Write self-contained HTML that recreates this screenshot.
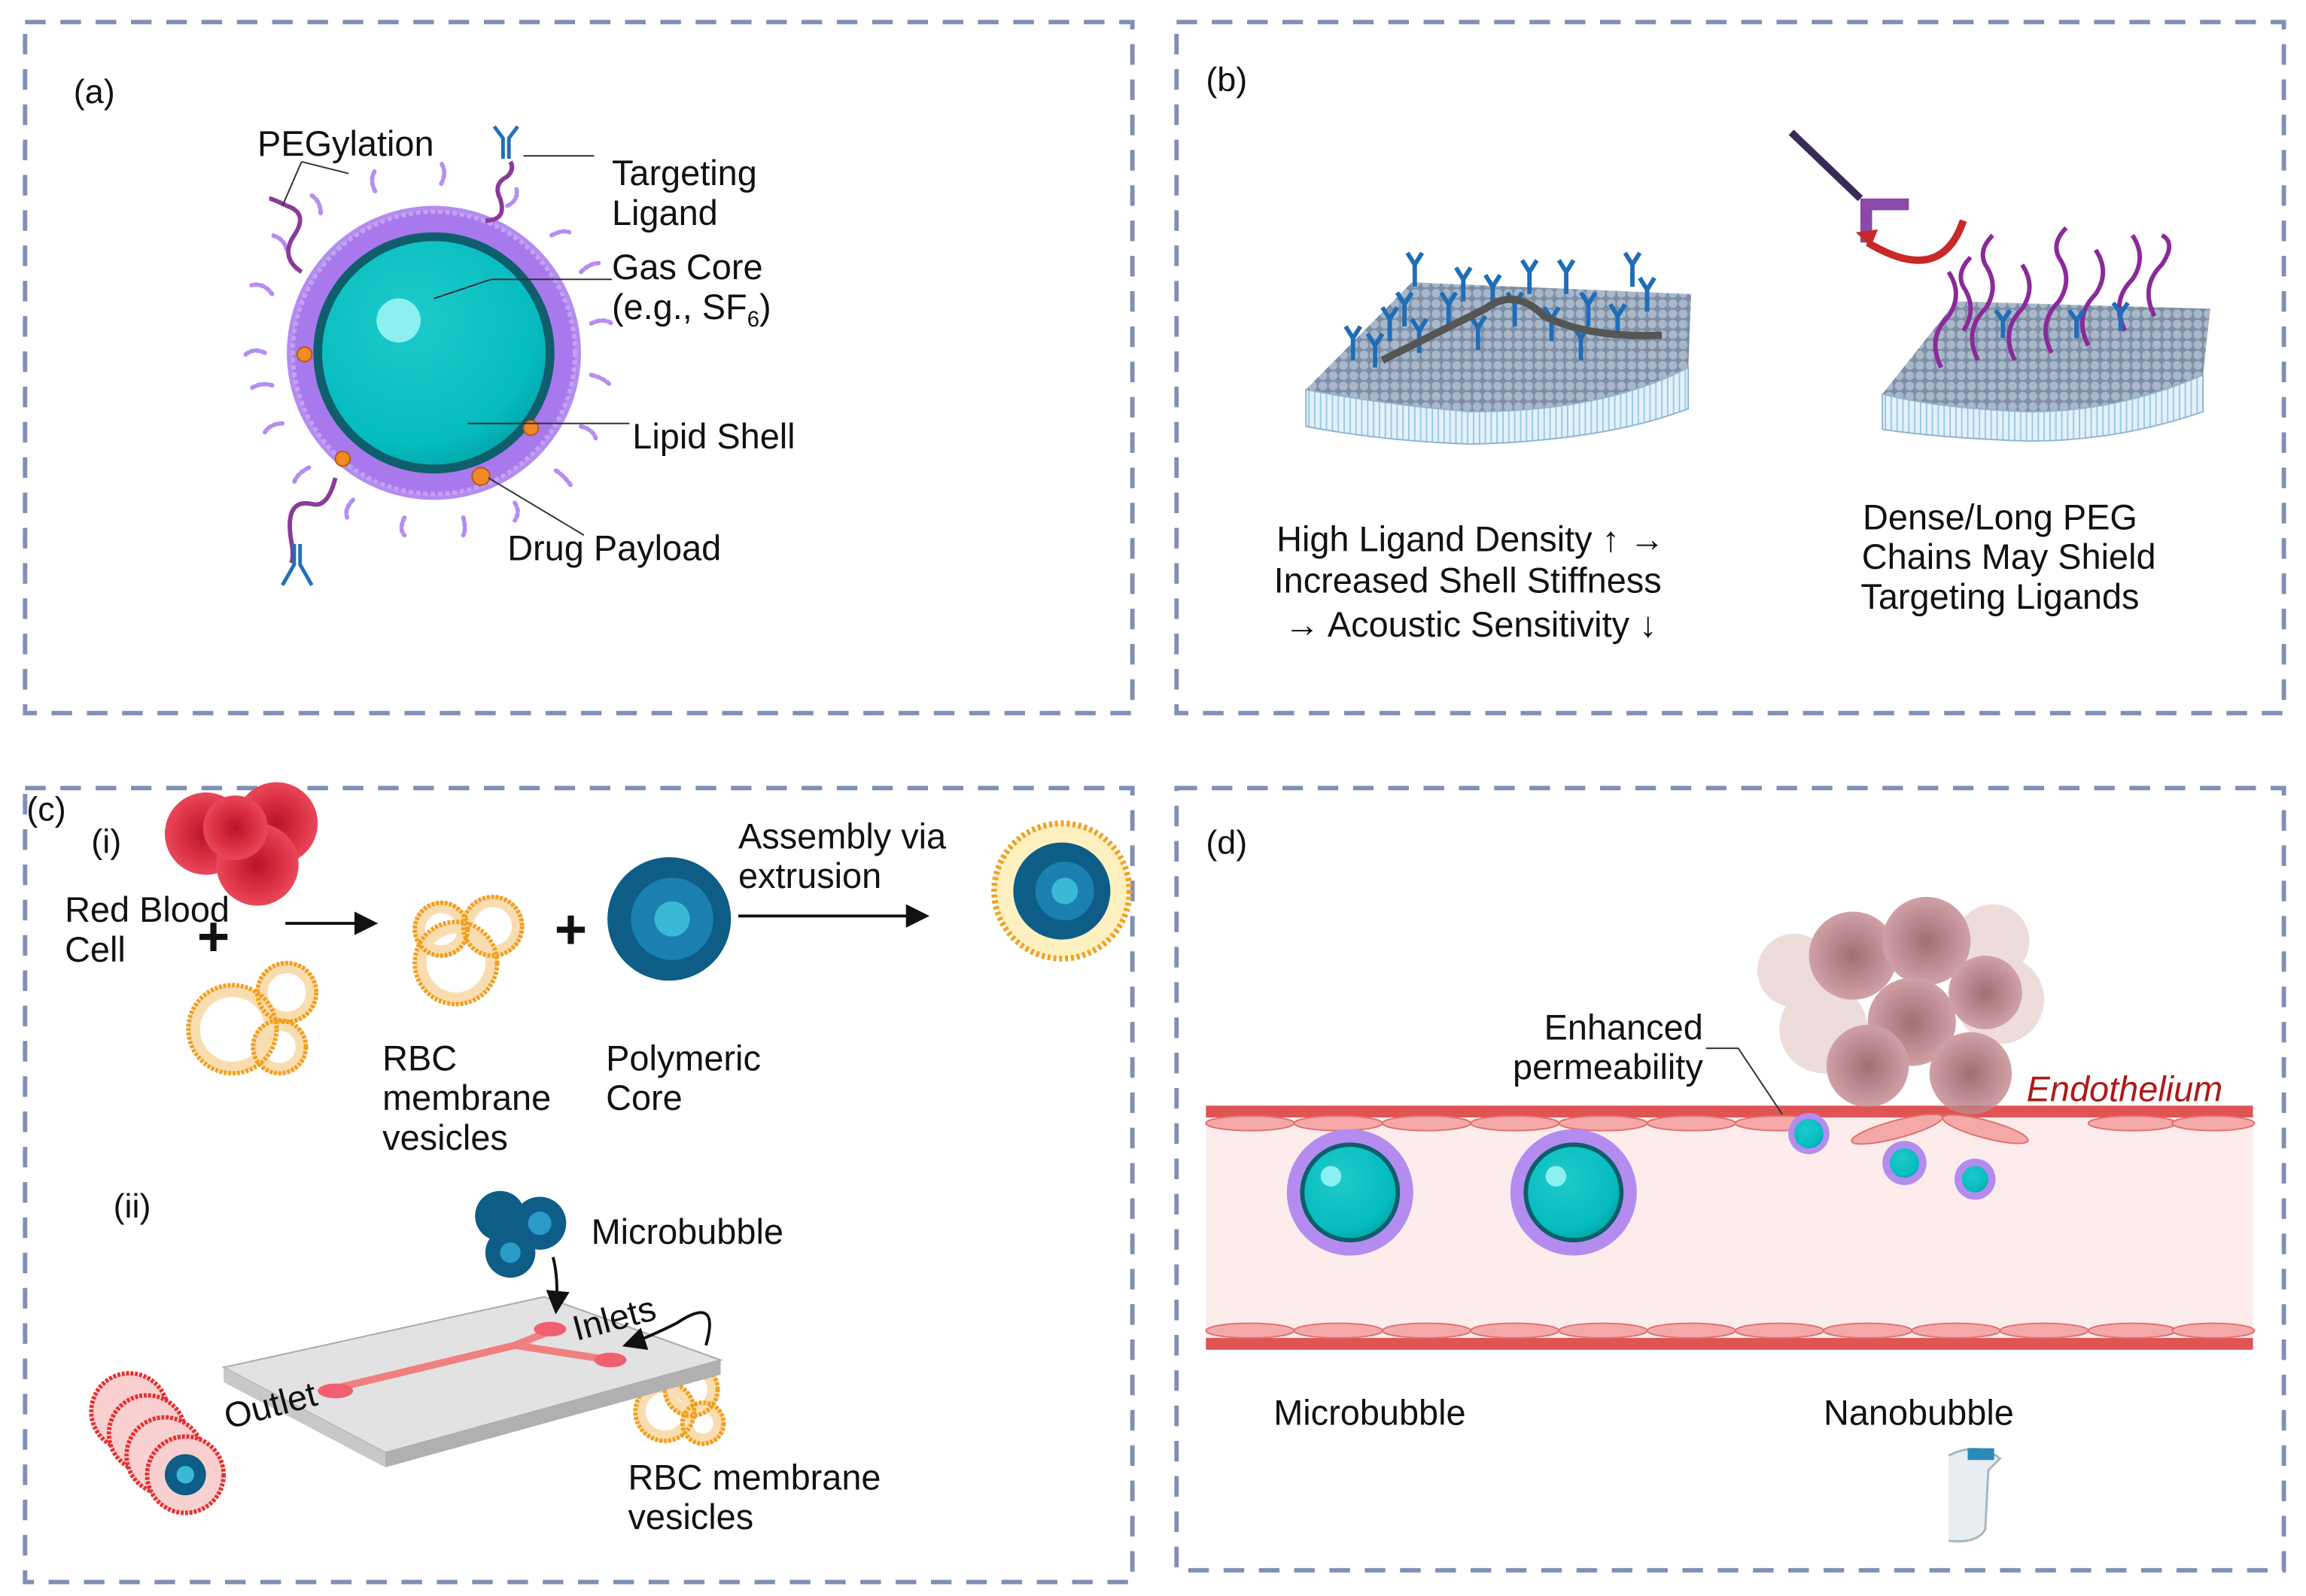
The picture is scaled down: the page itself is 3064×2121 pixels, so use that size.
<!DOCTYPE html>
<html><head><meta charset="utf-8"><style>
html,body{margin:0;padding:0;background:#fff;}
svg{display:block;}
text{font-family:"Liberation Sans",Arial,sans-serif;fill:#111;}
</style></head><body>
<svg width="3064" height="2121" viewBox="0 0 1568 1085.5" xmlns="http://www.w3.org/2000/svg">
<defs>
<pattern id="dots" width="7" height="7" patternUnits="userSpaceOnUse"><rect width="7" height="7" fill="#7d8fa6"/><circle cx="3.5" cy="3.5" r="3" fill="#a9b8c9"/></pattern>
<pattern id="tails" width="4" height="10" patternUnits="userSpaceOnUse"><rect width="4" height="10" fill="#e3f1fb"/><line x1="2" y1="0" x2="2" y2="10" stroke="#9cc8e6" stroke-width="1"/></pattern>
<radialGradient id="teal" cx="0.4" cy="0.35" r="0.7"><stop offset="0" stop-color="#1fcaca"/><stop offset="0.8" stop-color="#05bcbf"/><stop offset="1" stop-color="#03a5a8"/></radialGradient>
<radialGradient id="rbc" cx="0.5" cy="0.5" r="0.5"><stop offset="0" stop-color="#b8142a"/><stop offset="0.6" stop-color="#dc2f42"/><stop offset="1" stop-color="#e8485a"/></radialGradient>
<radialGradient id="tum" cx="0.5" cy="0.5" r="0.5"><stop offset="0" stop-color="#8c4a52"/><stop offset="1" stop-color="#c48a90"/></radialGradient>
<marker id="ah" markerWidth="8" markerHeight="8" refX="7" refY="4" orient="auto"><path d="M0,0 L8,4 L0,8 z" fill="#111"/></marker>
</defs>

<g fill="none" stroke="#7f8fb5" stroke-width="3" stroke-dasharray="14,10">
<rect x="17" y="15" width="753" height="470"/>
<rect x="800" y="15" width="753" height="470"/>
<rect x="17" y="536" width="753" height="540"/>
<rect x="800" y="536" width="753" height="532"/>
</g>

<!-- (a) -->
<text x="50" y="70" font-size="23">(a)</text>
<g stroke="#b58ef0" stroke-width="3" fill="none" stroke-dasharray="2,2" stroke-linecap="round">
<path d="M180,240 q-8,-4 -14,2"/><path d="M185,200 q-6,-8 -14,-6"/><path d="M195,170 q-2,-8 -10,-10"/><path d="M218,145 q0,-8 -6,-12"/><path d="M255,130 q-4,-8 0,-14"/><path d="M300,125 q4,-8 0,-14"/><path d="M345,140 q8,-4 6,-12"/><path d="M375,160 q8,-4 12,-2"/><path d="M395,185 q6,-6 12,-6"/><path d="M402,220 q8,-4 14,0"/><path d="M402,255 q8,2 12,6"/><path d="M395,290 q8,2 10,8"/><path d="M378,320 q6,4 10,10"/><path d="M350,342 q4,6 0,12"/><path d="M315,352 q2,8 0,12"/><path d="M275,352 q-4,8 0,12"/><path d="M240,340 q-6,6 -4,12"/><path d="M210,318 q-8,4 -10,10"/><path d="M192,288 q-8,0 -12,6"/><path d="M185,262 q-8,-2 -14,2"/>
</g>
<circle cx="295" cy="240" r="100" fill="#b48cf0"/>
<circle cx="295" cy="240" r="96" fill="#a879ec" stroke="#c3a2f4" stroke-width="3" stroke-dasharray="3,2"/>
<path d="M205,185 q-15,-10 -5,-25 q10,-15 -5,-20 q-10,-5 -12,-5" stroke="#8a3a9a" stroke-width="3" fill="none"/>
<path d="M228,325 q-5,20 -15,18 q-20,-5 -15,25 q2,10 0,15" stroke="#8a3a9a" stroke-width="3" fill="none"/>
<path d="M330,150 q15,0 10,-15 q-5,-10 5,-15 q5,-5 2,-10" stroke="#8a3a9a" stroke-width="3" fill="none"/>
<circle cx="295" cy="240" r="82" fill="#0f5e6c"/>
<circle cx="295" cy="240" r="76" fill="url(#teal)"/>
<circle cx="271" cy="218" r="15" fill="#8df0f0"/>
<g fill="#f08a24" stroke="#b85a10" stroke-width="1"><circle cx="207" cy="241" r="5"/><circle cx="233" cy="312" r="5"/><circle cx="327" cy="324" r="6"/><circle cx="361" cy="291" r="5"/></g>
<g stroke="#1f70b8" stroke-width="2.5" fill="none"><path d="M342,108 v-14 l-6,-8 M346,108 v-14 l6,-8"/><path d="M200,370 v14 l-8,14 M204,370 v14 l8,14"/></g>
<g stroke="#333" stroke-width="1" fill="none">
<path d="M356,106 H404"/><path d="M295,203 L334,190 H416"/><path d="M318,288 H428"/><path d="M332,325 L397,364"/><path d="M205,110 L192,140"/><path d="M205,110 L237,118"/>
</g>
<text x="175" y="106" font-size="24">PEGylation</text>
<text x="416" y="126" font-size="24">Targeting</text>
<text x="416" y="153" font-size="24">Ligand</text>
<text x="416" y="190" font-size="24">Gas Core</text>
<text x="416" y="217" font-size="24">(e.g., SF<tspan font-size="15" dy="5">6</tspan><tspan dy="-5">)</tspan></text>
<text x="430" y="305" font-size="24">Lipid Shell</text>
<text x="345" y="381" font-size="24">Drug Payload</text>

<!-- (b) -->
<text x="820" y="62" font-size="23">(b)</text>
<path d="M888,265 L960,192 L1150,200 L1148,250 Q1090,280 1000,280 Q940,275 888,265 Z" fill="url(#dots)"/>
<path d="M888,265 Q940,275 1000,280 Q1090,280 1148,250 L1148,278 Q1090,300 1000,302 Q940,300 888,290 Z" fill="url(#tails)" stroke="#8fb5d0" stroke-width="1"/>
<g stroke="#1f6db8" stroke-width="3" fill="none">
<path d="M920,245 v-15 l-5,-8 M920,230 l5,-8"/><path d="M945,232 v-15 l-5,-8 M945,217 l5,-8"/><path d="M965,240 v-15 l-5,-8 M965,225 l5,-8"/><path d="M985,222 v-15 l-5,-8 M985,207 l5,-8"/><path d="M1005,238 v-15 l-5,-8 M1005,223 l5,-8"/><path d="M1030,222 v-15 l-5,-8 M1030,207 l5,-8"/><path d="M1055,232 v-15 l-5,-8 M1055,217 l5,-8"/><path d="M1080,222 v-15 l-5,-8 M1080,207 l5,-8"/><path d="M1100,230 v-15 l-5,-8 M1100,215 l5,-8"/><path d="M1120,212 v-15 l-5,-8 M1120,197 l5,-8"/><path d="M962,195 v-15 l-5,-8 M962,180 l5,-8"/><path d="M1040,200 v-15 l-5,-8 M1040,185 l5,-8"/><path d="M1065,200 v-15 l-5,-8 M1065,185 l5,-8"/><path d="M995,205 v-15 l-5,-8 M995,190 l5,-8"/><path d="M935,250 v-15 l-5,-8 M935,235 l5,-8"/><path d="M1075,245 v-15 l-5,-8 M1075,230 l5,-8"/><path d="M955,222 v-15 l-5,-8 M955,207 l5,-8"/><path d="M1015,210 v-15 l-5,-8 M1015,195 l5,-8"/><path d="M1110,195 v-15 l-5,-8 M1110,180 l5,-8"/>
</g>
<path d="M940,245 Q980,225 1010,210 Q1030,195 1050,215 Q1080,230 1130,228" stroke="#555" stroke-width="5" fill="none"/>
<path d="M1280,268 L1330,205 L1503,210 L1498,255 Q1440,280 1380,280 Q1320,278 1280,268 Z" fill="url(#dots)"/>
<path d="M1280,268 Q1320,278 1380,280 Q1440,280 1498,255 L1498,280 Q1440,300 1380,300 Q1320,298 1280,292 Z" fill="url(#tails)" stroke="#8fb5d0" stroke-width="1"/>
<g stroke="#8a2a9a" stroke-width="3" fill="none">
<path d="M1320,250 q-10,-20 5,-35 q10,-15 0,-30"/><path d="M1345,245 q-10,-20 5,-35 q10,-15 0,-30 q-5,-10 5,-20"/><path d="M1370,245 q-10,-20 5,-35 q10,-15 0,-30"/><path d="M1395,240 q-10,-20 5,-35 q10,-15 0,-30 q-5,-10 5,-20"/><path d="M1420,235 q-10,-20 5,-35 q10,-15 0,-30"/><path d="M1445,225 q-10,-20 5,-35 q10,-15 0,-30"/><path d="M1465,215 q-10,-20 5,-35 q10,-15 0,-20"/><path d="M1335,225 q10,-15 0,-30 q-5,-10 5,-20"/>
</g>
<g stroke="#1f6db8" stroke-width="3" fill="none"><path d="M1362,230 v-12 l-5,-7 M1362,218 l5,-7"/><path d="M1412,230 v-12 l-5,-7 M1412,218 l5,-7"/><path d="M1442,225 v-12 l-5,-7 M1442,213 l5,-7"/></g>
<path d="M1218,90 L1265,135" stroke="#3a2a5a" stroke-width="5"/>
<path d="M1265,135 v30 h8 v-22 h25 v-8 z" fill="#8a4aaa"/>
<path d="M1270,165 Q1320,195 1335,150" stroke="#c82828" stroke-width="5" fill="none"/>
<path d="M1262,158 l15,-2 l-5,12 z" fill="#c82828"/>
<text font-size="24" text-anchor="middle"><tspan x="1000" y="375">High Ligand Density ↑ →</tspan><tspan x="998" y="403">Increased Shell Stiffness</tspan><tspan x="1000" y="433">→ Acoustic Sensitivity ↓</tspan></text>
<text font-size="24" text-anchor="middle"><tspan x="1360" y="360">Dense/Long PEG</tspan><tspan x="1366" y="387">Chains May Shield</tspan><tspan x="1360" y="414">Targeting Ligands</tspan></text>

<!-- (c) -->
<text x="18" y="558" font-size="23">(c)</text>
<text x="62" y="580" font-size="23">(i)</text>
<circle cx="140" cy="567" r="28" fill="url(#rbc)"/><circle cx="188" cy="560" r="28" fill="url(#rbc)"/><circle cx="175" cy="588" r="28" fill="url(#rbc)"/><circle cx="160" cy="563" r="22" fill="url(#rbc)"/>
<text font-size="24"><tspan x="44" y="627">Red Blood</tspan><tspan x="44" y="654">Cell</tspan></text>
<text x="134" y="650" font-size="38" font-weight="bold">+</text>
<g fill="none" stroke="#f0a020" stroke-width="8" opacity="0.35">
<circle cx="158" cy="700" r="26"/><circle cx="195" cy="675" r="17"/><circle cx="190" cy="712" r="15"/>
<circle cx="310" cy="655" r="24"/><circle cx="335" cy="630" r="17"/><circle cx="300" cy="632" r="15"/>
<circle cx="470" cy="945" r="15"/><circle cx="452" cy="960" r="17"/><circle cx="478" cy="968" r="11"/>
</g>
<g fill="none" stroke="#f0a020" stroke-width="3" stroke-dasharray="2,1">
<circle cx="158" cy="700" r="30"/><circle cx="195" cy="675" r="20"/><circle cx="190" cy="712" r="18"/>
<circle cx="310" cy="655" r="28"/><circle cx="335" cy="630" r="20"/><circle cx="300" cy="632" r="18"/>
<circle cx="470" cy="945" r="18"/><circle cx="452" cy="960" r="20"/><circle cx="478" cy="968" r="14"/>
</g>
<path d="M194,628 H255" stroke="#111" stroke-width="2" marker-end="url(#ah)"/>
<text x="377" y="645" font-size="38" font-weight="bold">+</text>
<circle cx="455" cy="625" r="42" fill="#0d5d86"/><circle cx="457" cy="625" r="28" fill="#1b80b0"/><circle cx="457" cy="625" r="12" fill="#3ab8d8"/>
<text font-size="24"><tspan x="260" y="728">RBC</tspan><tspan x="260" y="755">membrane</tspan><tspan x="260" y="782">vesicles</tspan></text>
<text font-size="24"><tspan x="412" y="728">Polymeric</tspan><tspan x="412" y="755">Core</tspan></text>
<text font-size="24"><tspan x="502" y="577">Assembly via</tspan><tspan x="502" y="604">extrusion</tspan></text>
<path d="M502,623 H630" stroke="#111" stroke-width="2" marker-end="url(#ah)"/>
<circle cx="722" cy="606" r="46" fill="#fff0c0" stroke="#f0a020" stroke-width="4" stroke-dasharray="2,2"/>
<circle cx="722" cy="606" r="33" fill="#0d5d86"/><circle cx="724" cy="606" r="20" fill="#1b80b0"/><circle cx="724" cy="606" r="9" fill="#3ab8d8"/>
<text x="77" y="828" font-size="23">(ii)</text>
<circle cx="340" cy="827" r="17" fill="#0d5d86"/><circle cx="367" cy="832" r="18" fill="#0d5d86"/><circle cx="347" cy="852" r="17" fill="#0d5d86"/>
<circle cx="367" cy="832" r="8" fill="#2a9ac8"/><circle cx="347" cy="852" r="7" fill="#2a9ac8"/>
<text x="402" y="846" font-size="24">Microbubble</text>
<path d="M152,930 L370,882 L490,925 L262,988 Z" fill="#e2e2e2" stroke="#aaa"/>
<path d="M152,930 L262,988 L262,998 L152,940 Z" fill="#c8c8c8"/>
<path d="M262,988 L490,925 L490,935 L262,998 Z" fill="#b0b0b0"/>
<path d="M225,945 L350,915 L375,905 M350,915 L415,925" stroke="#f08080" stroke-width="5" fill="none"/>
<ellipse cx="228" cy="946" rx="12" ry="5" fill="#f06070"/><ellipse cx="374" cy="904" rx="11" ry="5" fill="#f06070"/><ellipse cx="415" cy="925" rx="11" ry="5" fill="#f06070"/>
<path d="M376,855 Q380,870 378,892" stroke="#111" stroke-width="2" fill="none" marker-end="url(#ah)"/>
<path d="M480,915 Q490,880 460,900 Q440,910 425,915" stroke="#111" stroke-width="2" fill="none" marker-end="url(#ah)"/>
<text x="392" y="912" font-size="24" transform="rotate(-15 392 912)">Inlets</text>
<text x="155" y="972" font-size="24" transform="rotate(-15 155 972)">Outlet</text>
<g><circle cx="88" cy="960" r="26" fill="#f8d0d0" stroke="#e83030" stroke-width="3" stroke-dasharray="2,1"/><circle cx="100" cy="975" r="26" fill="#f8d0d0" stroke="#e83030" stroke-width="3" stroke-dasharray="2,1"/><circle cx="112" cy="990" r="26" fill="#f8d0d0" stroke="#e83030" stroke-width="3" stroke-dasharray="2,1"/><circle cx="126" cy="1003" r="26" fill="#f8d0d0" stroke="#e83030" stroke-width="3" stroke-dasharray="2,1"/><circle cx="126" cy="1003" r="14" fill="#0d5d86"/><circle cx="126" cy="1003" r="6" fill="#3ab8d8"/></g>
<text font-size="24"><tspan x="427" y="1013">RBC membrane</tspan><tspan x="427" y="1040">vesicles</tspan></text>

<!-- (d) -->
<text x="820" y="581" font-size="23">(d)</text>
<rect x="820" y="756" width="712" height="158" fill="#fdecec"/>
<rect x="820" y="752" width="712" height="8" fill="#e05454"/>
<rect x="820" y="910" width="712" height="8" fill="#e05454"/>
<g fill="#f5a8a8" stroke="#e07070" stroke-width="1">
<ellipse cx="850" cy="764" rx="30" ry="5"/><ellipse cx="910" cy="764" rx="30" ry="5"/><ellipse cx="970" cy="764" rx="30" ry="5"/><ellipse cx="1030" cy="764" rx="30" ry="5"/><ellipse cx="1090" cy="764" rx="30" ry="5"/><ellipse cx="1150" cy="764" rx="30" ry="5"/><ellipse cx="1210" cy="764" rx="30" ry="5"/><ellipse cx="1450" cy="764" rx="30" ry="5"/><ellipse cx="1505" cy="764" rx="28" ry="5"/>
<ellipse cx="850" cy="905" rx="30" ry="5"/><ellipse cx="910" cy="905" rx="30" ry="5"/><ellipse cx="970" cy="905" rx="30" ry="5"/><ellipse cx="1030" cy="905" rx="30" ry="5"/><ellipse cx="1090" cy="905" rx="30" ry="5"/><ellipse cx="1150" cy="905" rx="30" ry="5"/><ellipse cx="1210" cy="905" rx="30" ry="5"/><ellipse cx="1270" cy="905" rx="30" ry="5"/><ellipse cx="1330" cy="905" rx="30" ry="5"/><ellipse cx="1390" cy="905" rx="30" ry="5"/><ellipse cx="1450" cy="905" rx="30" ry="5"/><ellipse cx="1505" cy="905" rx="28" ry="5"/>
</g>
<g opacity="0.8">
<circle cx="1240" cy="700" r="30" fill="#ead4d4"/><circle cx="1360" cy="680" r="30" fill="#ead4d4"/><circle cx="1220" cy="660" r="25" fill="#ead4d4"/><circle cx="1355" cy="640" r="25" fill="#ead4d4"/>
<circle cx="1260" cy="650" r="30" fill="url(#tum)"/><circle cx="1310" cy="640" r="30" fill="url(#tum)"/><circle cx="1300" cy="695" r="30" fill="url(#tum)"/><circle cx="1340" cy="730" r="28" fill="url(#tum)"/><circle cx="1270" cy="725" r="28" fill="url(#tum)"/><circle cx="1350" cy="675" r="25" fill="url(#tum)"/>
</g>
<g fill="#f5a8a8" stroke="#e07070" stroke-width="1">
<ellipse cx="1290" cy="768" rx="32" ry="6" transform="rotate(-15 1290 768)"/><ellipse cx="1350" cy="768" rx="30" ry="6" transform="rotate(15 1350 768)"/>
</g>
<circle cx="918" cy="811" r="43" fill="#b48cf0"/><circle cx="918" cy="811" r="34" fill="#0d5e6c"/><circle cx="918" cy="811" r="31" fill="url(#teal)"/><circle cx="905" cy="800" r="7" fill="#8df0f0"/>
<circle cx="1070" cy="811" r="43" fill="#b48cf0"/><circle cx="1070" cy="811" r="34" fill="#0d5e6c"/><circle cx="1070" cy="811" r="31" fill="url(#teal)"/><circle cx="1058" cy="800" r="7" fill="#8df0f0"/>
<circle cx="1230" cy="771" r="14" fill="#b48cf0"/><circle cx="1230" cy="771" r="10" fill="url(#teal)"/>
<circle cx="1295" cy="791" r="15" fill="#b48cf0"/><circle cx="1295" cy="791" r="10" fill="url(#teal)"/>
<circle cx="1343" cy="802" r="14" fill="#b48cf0"/><circle cx="1343" cy="802" r="9" fill="url(#teal)"/>
<path d="M1160,713 H1182 L1212,758" stroke="#333" stroke-width="1" fill="none"/>
<text font-size="24" text-anchor="end"><tspan x="1158" y="707">Enhanced</tspan><tspan x="1158" y="734">permeability</tspan></text>
<text x="1378" y="749" font-size="24" font-style="italic" style="fill:#b01818">Endothelium</text>
<text x="866" y="969" font-size="24">Microbubble</text>
<text x="1240" y="969" font-size="24">Nanobubble</text>
<path d="M1325,990 Q1345,980 1360,992 L1352,1000 L1350,1040 Q1345,1050 1325,1048" fill="#e8eef2" stroke="#aab4bc" stroke-width="1.5"/>
<rect x="1338" y="985" width="18" height="8" fill="#2a8ab8"/>
</svg>
</body></html>
